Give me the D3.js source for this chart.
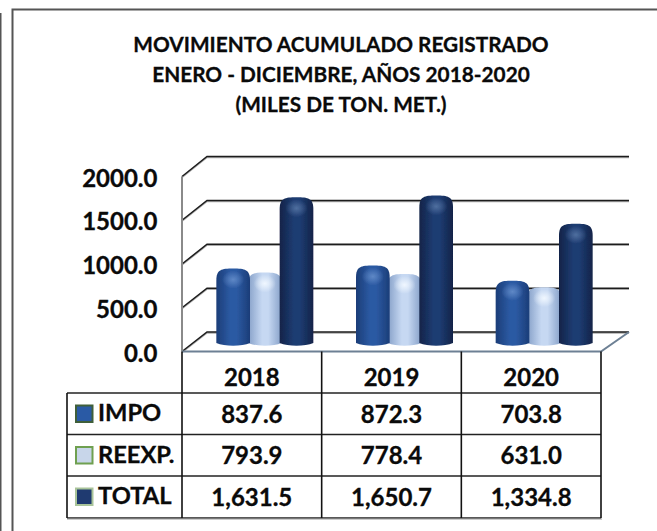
<!DOCTYPE html>
<html><head><meta charset="utf-8">
<script src="https://cdn.jsdelivr.net/npm/d3@7"></script>
<style>html,body{margin:0;padding:0;background:#fff}svg{display:block}text{font-family:Lato,"Open Sans",sans-serif;font-weight:700;fill:#0a0a0a;stroke:#0a0a0a;stroke-width:.3px}</style>
</head><body><svg id="c" width="657" height="531"></svg>
<script>
const years = ["2018","2019","2020"];
const seriesNames = ["IMPO","REEXP.","TOTAL"];
const impo = [837.6,872.3,703.8];
const reexp = [793.9,778.4,631.0];
const total = [1631.5,1650.7,1334.8];
const yTicks = [0,500,1000,1500,2000];
const titleLines = ["MOVIMIENTO ACUMULADO REGISTRADO","ENERO - DICIEMBRE, AÑOS 2018-2020","(MILES DE TON. MET.)"];
const seriesValues = [impo,reexp,total];
const palette = [
 {edge:"#1b3d78",mid:"#2c5aa3",hi:"#5f88c6",sw:["#3f5f3a","#24406f","#2a5aa5","#1b3a66"]},
 {edge:"#86a0c8",mid:"#c6d8f2",hi:"#f0f7ff",sw:["#6fa050","#5f9a48","#c8d6ea","#8ca0bc"]},
 {edge:"#112348",mid:"#1e3c72",hi:"#4f6f9f",sw:["#a9c49a","#9ab88c","#1f3a70","#2e4a55"]}
];
const fmtNum = d3.format(",.1f");
const svg = d3.select("#c");
const defs = svg.append("defs");
palette.forEach((p,i)=>{
  const g=defs.append("linearGradient").attr("id","bar"+i);
  g.append("stop").attr("offset","0").attr("stop-color",p.edge);
  g.append("stop").attr("offset",".42").attr("stop-color",p.mid);
  g.append("stop").attr("offset",".6").attr("stop-color",p.mid);
  g.append("stop").attr("offset","1").attr("stop-color",p.edge);
  const r=defs.append("radialGradient").attr("id","hi"+i);
  r.append("stop").attr("offset","0").attr("stop-color",p.hi);
  r.append("stop").attr("offset","1").attr("stop-color",p.hi).attr("stop-opacity",0);
});
defs.append("filter").attr("id","soft").append("feGaussianBlur").attr("stdDeviation",.45);

// outer frame
const frame = svg.append("g").attr("fill","none").attr("stroke","#555");
frame.append("path").attr("d","M12.5,531V9.5H657").attr("stroke-width",2);
frame.append("path").attr("d","M0.5,13V531").attr("stroke-width",2);

// title
svg.append("g").selectAll("text").data(titleLines).join("text")
  .attr("x",341).attr("y",(d,i)=>52+i*30).attr("text-anchor","middle")
  .attr("font-size",20.8).text(d=>d);

// scales
const xCat = d3.scaleBand().domain(years).range([182,601]);
const depthX = 25, depthRight = 28;
const yFront = d3.scaleLinear().domain([0,2000]).range([351.5,176.5]);
const yBack = d3.scaleLinear().domain([0,2000]).range([332,156.5]);
const yBar = d3.scaleLinear().domain([0,2000]).range([344,164]);
const xSer = d3.scaleBand().domain(seriesNames).range([0,95]);

// floor
svg.append("path")
  .attr("d",`M${xCat.range()[0]},${yFront(0)}L${xCat.range()[0]+depthX},${yBack(0)}H${xCat.range()[1]+depthRight}L${xCat.range()[1]},${yFront(0)}Z`)
  .attr("fill","#fff");
// gridlines
const grid=svg.append("g");
yTicks.forEach(t=>{
  const d=`M${xCat.range()[0]},${yFront(t)}L${xCat.range()[0]+depthX},${yBack(t)}H${xCat.range()[1]+depthRight}`;
  grid.append("path").attr("d",d).attr("transform","translate(0,1)").attr("fill","none").attr("stroke","#aaa").attr("stroke-width",1.5);
  grid.append("path").attr("d",d).attr("fill","none").attr("stroke","#1c1c1c").attr("stroke-width",1.5);
});
// wall vertical + floor edges
svg.append("line").attr("x1",182).attr("x2",182).attr("y1",yFront(2000)).attr("y2",yFront(0))
  .attr("stroke","#8a8a8a").attr("stroke-width",2);
svg.append("path")
  .attr("d",`M${xCat.range()[0]},${yFront(0)}H${xCat.range()[1]}L${xCat.range()[1]+depthRight},${yBack(0)}`)
  .attr("fill","none").attr("stroke","#6d8094").attr("stroke-width",2);

// bars
const barsG = svg.append("g").attr("filter","url(#soft)");
years.forEach((yr,ci)=>{
  const cx = xCat(yr)+xCat.bandwidth()/2+13-47.5;
  [1,0,2].forEach(si=>{
    const v=seriesValues[si][ci], name=seriesNames[si];
    const x=cx+xSer(name)-1, w=xSer.bandwidth()+2, top=yBar(v), base=yBar(0), cap=12;
    barsG.append("path")
      .attr("d",`M${x},${base-1}V${top+cap}C${x},${top+1} ${x+w*.15},${top} ${x+w/2},${top}C${x+w*.85},${top} ${x+w},${top+1} ${x+w},${top+cap}V${base-1}C${x+w*.75},${base+2.5} ${x+w*.25},${base+2.5} ${x},${base-1}Z`)
      .attr("fill",`url(#bar${si})`);
    barsG.append("ellipse").attr("cx",x+w/2).attr("cy",top+11).attr("rx",w*.33).attr("ry",9)
      .attr("fill",`url(#hi${si})`);
  });
});

// y axis labels
const axis = d3.axisLeft(yFront).tickValues(yTicks).tickFormat(d3.format(".1f")).tickSize(0).tickPadding(0);
const ax = svg.append("g").attr("transform","translate(157.5,1.5)").call(axis);
ax.select(".domain").remove();
ax.selectAll("text").attr("font-size",24).attr("font-family","Lato").attr("fill","#0a0a0a").attr("dy","0.34em");

// table
const rowEdges = [351.5,393,434.5,476,518];
const tbl = svg.append("g").attr("stroke","#111").attr("stroke-width",1.6);
rowEdges.slice(1).forEach(y=>{
  tbl.append("line").attr("x1",67).attr("x2",601).attr("y1",y).attr("y2",y).attr("stroke","#222");
});
[182,...years.map(y=>xCat(y)+xCat.bandwidth())].forEach(x=>{
  tbl.append("line").attr("x1",x).attr("x2",x).attr("y1",351.5).attr("y2",518);
});
tbl.append("line").attr("x1",67).attr("x2",67).attr("y1",393).attr("y2",518);
svg.append("line").attr("x1",67).attr("x2",602).attr("y1",519).attr("y2",519).attr("stroke","#999").attr("stroke-width",1);

years.forEach((yr,ci)=>{
  const tx=xCat(yr)+xCat.bandwidth()/2;
  svg.append("text").attr("x",tx).attr("y",386).attr("text-anchor","middle").attr("font-size",24).text(yr);
  seriesNames.forEach((n,si)=>{
    svg.append("text").attr("x",tx).attr("y",rowEdges[si+1]+29.5).attr("text-anchor","middle").attr("font-size",24)
      .text(fmtNum(seriesValues[si][ci]));
  });
});
seriesNames.forEach((n,si)=>{
  const top=rowEdges[si+1]+11.5, left=75, s=18.5, b=4, p=palette[si].sw;
  const l=left,t=top;
  const g=svg.append("g");
  g.append("rect").attr("x",l).attr("y",t).attr("width",s).attr("height",s).attr("fill",p[0]);
  g.append("rect").attr("x",l+b/2).attr("y",t+b/2).attr("width",s-b).attr("height",s-b).attr("fill",p[2]);
  svg.append("text").attr("x",98).attr("y",rowEdges[si+1]+28).attr("font-size",23.7).text(n);
});
</script></body></html>
